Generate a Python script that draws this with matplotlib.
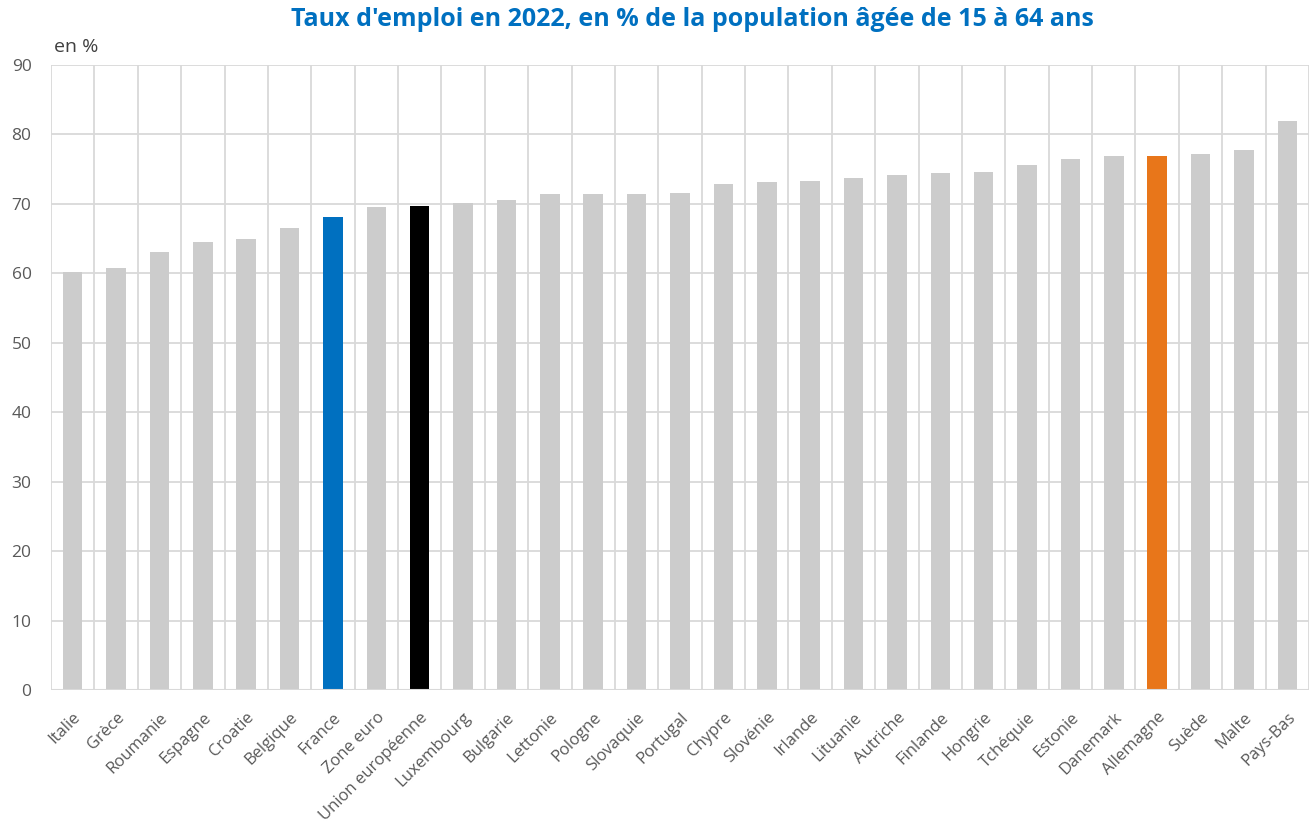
import matplotlib.pyplot as plt
import numpy as np

plt.rcParams['font.family'] = ['Open Sans', 'DejaVu Sans']

# Taux d'emploi 2022, 15-64 ans
pays = [
    "Italie", "Grèce", "Roumanie", "Espagne", "Croatie", "Belgique", "France",
    "Zone euro", "Union européenne", "Luxembourg", "Bulgarie", "Lettonie",
    "Pologne", "Slovaquie", "Portugal", "Chypre", "Slovénie", "Irlande",
    "Lituanie", "Autriche", "Finlande", "Hongrie", "Tchéquie", "Estonie",
    "Danemark", "Allemagne", "Suède", "Malte", "Pays-Bas"
]
taux = [
    60.2, 60.8, 63.1, 64.5, 65.0, 66.5, 68.1,
    69.5, 69.7, 70.1, 70.6, 71.4,
    71.4, 71.4, 71.6, 72.8, 73.2, 73.3,
    73.8, 74.1, 74.4, 74.6, 75.6, 76.5,
    76.9, 76.9, 77.2, 77.7, 81.9
]
mise_en_avant = {"France": "#0070c0", "Union européenne": "#000000", "Allemagne": "#e8761a"}

couleurs = [mise_en_avant.get(p, "#cccccc") for p in pays]
x = np.arange(len(pays))

fig = plt.figure(figsize=(13.1, 8.25), dpi=100)
ax = fig.add_axes([51 / 1310, 1 - 690 / 825, 1258 / 1310, 625 / 825])

ax.bar(x, taux, width=0.45, color=couleurs, zorder=3)

ax.set_xlim(-0.5, len(pays) - 0.5)
ax.set_ylim(0, 90)
ax.set_yticks(range(0, 91, 10))

# grille : lignes horizontales + séparateurs entre catégories
grid_col = "#d9d9d9"
ax.yaxis.grid(True, color=grid_col, linewidth=1.3, zorder=0)
for b in np.arange(-0.5, len(pays), 1.0):
    ax.axvline(b, color=grid_col, linewidth=1.3, zorder=0)
for s in ax.spines.values():
    s.set_visible(False)
ax.axhline(0, color=grid_col, linewidth=1.5, zorder=4)

ax.set_xticks(x)
ax.set_xticklabels(pays, rotation=45, ha="right", rotation_mode="anchor",
                   fontsize=12, color="#595959")
ax.tick_params(axis="x", length=0, pad=14)
ax.tick_params(axis="y", length=0, pad=14, labelsize=12.5, labelcolor="#595959")

fig.text(54 / 1310, 1 - 47 / 825, "en %", fontsize=14, color="#404040",
         va="center", ha="left")
fig.text(692 / 1310, 1 - 19 / 825,
         "Taux d'emploi en 2022, en % de la population âgée de 15 à 64 ans",
         fontsize=18, fontweight="bold", color="#0070c0", ha="center", va="center")

fig.savefig("out.png", dpi=100)
plt.close(fig)
